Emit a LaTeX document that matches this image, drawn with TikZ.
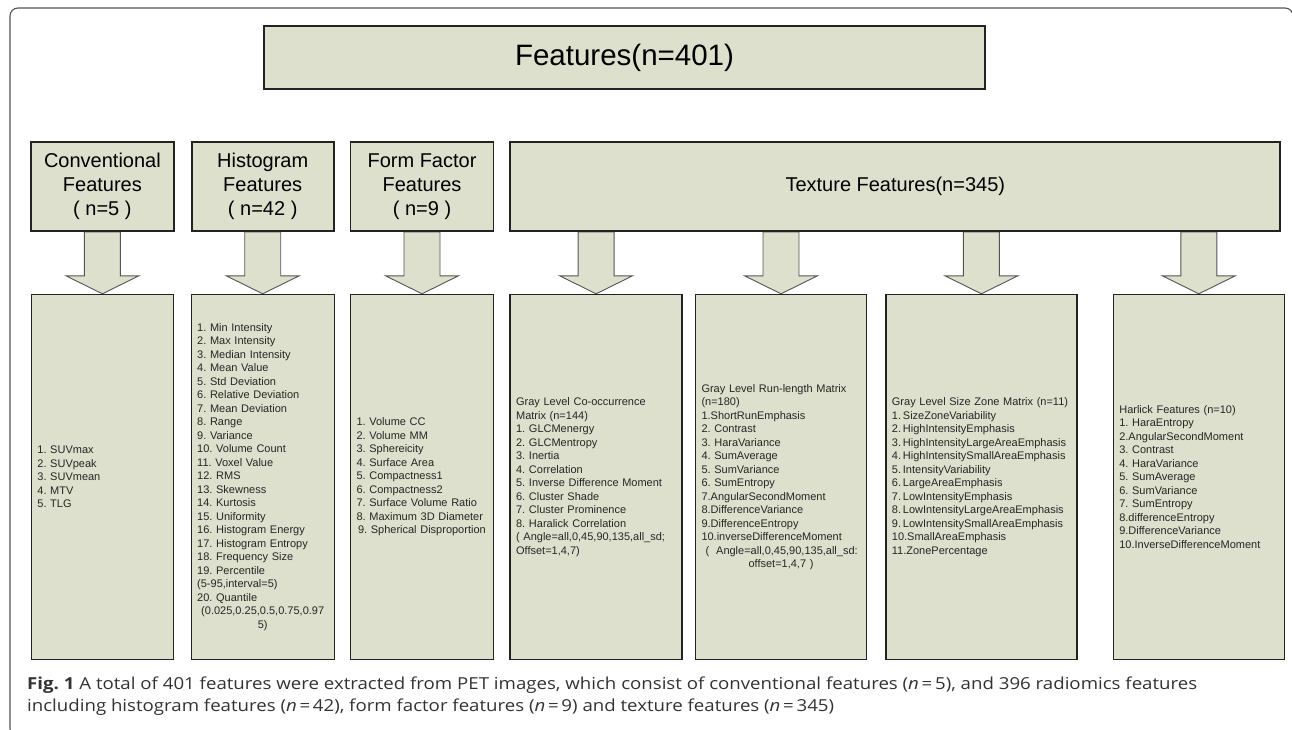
\documentclass[tikz,border=0pt]{standalone}
\usepackage{fontspec}
\setmainfont{Liberation Sans}
\newfontfamily\figcapfont{Open Sans}[FakeStretch=1.13]
\usetikzlibrary{calc,positioning,backgrounds}
\definecolor{boxfill}{RGB}{221,224,204}
\definecolor{boxline}{RGB}{35,35,35}
\definecolor{arrowline}{RGB}{85,85,85}
\definecolor{captext}{RGB}{50,50,50}
\frenchspacing
\tikzset{
    %Define style for the outer frame
    frame/.style={
           draw=arrowline,
           line width=1.1pt,
           rounded corners=8pt},
    %Define style for the top box
    topbox/.style={
           rectangle,
           draw=boxline, line width=2.2pt,
           fill=boxfill,
           minimum width=721pt,
           minimum height=63pt,
           font=\fontsize{29.5}{34}\selectfont},
    %Define style for the group boxes
    headbox/.style={
           rectangle,
           draw=boxline, line width=1.8pt,
           fill=boxfill,
           minimum height=89pt,
           align=center,
           font=\fontsize{20}{24}\selectfont},
    %Define style for the list boxes
    listbox/.style={
           rectangle,
           draw=boxline, line width=1.4pt,
           fill=boxfill,
           minimum height=365pt,
           inner xsep=6pt,
           align=left,
           text=black!85,
           font=\fontsize{11}{13.5}\selectfont},
    % Define block arrow style
    fatarrow/.style={
           draw=arrowline,
           line width=0.9pt,
           fill=boxfill,
           line join=miter},
    % Define caption style
    figcap/.style={
           inner sep=0pt,
           align=left,
           text=captext,
           font=\figcapfont\fontsize{16.5}{22}\selectfont}
}

\begin{document}
\begin{tikzpicture}[x=1pt, y=1pt, node distance=15pt, auto,]
    \useasboundingbox (0,0) rectangle (1292,-730);
    \draw[frame] (10,-8) rectangle (1293,-737);
 %nodes
    \node[topbox] (all) at (624.5,-57.5) {Features(n=401)};
    \node[headbox, minimum width=143pt, anchor=north west] (convhead) at (30,-141) {Conventional\\Features\\( n=5 )};
    \node[headbox, minimum width=142pt, right=16pt of convhead] (histhead) {Histogram\\Features\\( n=42 )};
    \node[headbox, minimum width=143pt, right=15pt of histhead] (formhead) {Form Factor\\Features\\( n=9 )};
    \node[headbox, minimum width=770pt, right=15pt of formhead] (texhead) {Texture Features(n=345)};
    \node[listbox, text width=130pt, below=62pt of convhead] (convlist) {1. SUVmax\\
        2. SUVpeak\\
        3. SUVmean\\
        4. MTV\\
        5. TLG};
    \node[listbox, text width=131pt, below=62pt of histhead] (histlist) {1. Min Intensity\\
        2. Max Intensity\\
        3. Median Intensity\\
        4. Mean Value\\
        5. Std Deviation\\
        6. Relative Deviation\\
        7. Mean Deviation\\
        8. Range\\
        9. Variance\\
        10. Volume Count\\
        11. Voxel Value\\
        12. RMS\\
        13. Skewness\\
        14. Kurtosis\\
        15. Uniformity\\
        16. Histogram Energy\\
        17. Histogram Entropy\\
        18. Frequency Size\\
        19. Percentile\\
        (5-95,interval=5)\\
        20. Quantile\\
        \makebox[\linewidth]{(0.025,0.25,0.5,0.75,0.97}\\
        \makebox[\linewidth]{5)}};
    \node[listbox, text width=131pt, below=62pt of formhead] (formlist) {1. Volume CC\\
        2. Volume MM\\
        3. Sphereicity\\
        4. Surface Area\\
        5. Compactness1\\
        6. Compactness2\\
        7. Surface Volume Ratio\\
        8. Maximum 3D Diameter\\
        \mbox{\hspace*{1.5pt}9. Spherical Disproportion}};
    \node[listbox, text width=160pt, below=62pt of texhead.south west, anchor=north west] (glcm) {Gray Level Co-occurrence\\
        Matrix (n=144)\\
        1. GLCMenergy\\
        2. GLCMentropy\\
        3. Inertia\\
        4. Correlation\\
        5. Inverse Difference Moment\\
        6. Cluster Shade\\
        7. Cluster Prominence\\
        8. Haralick Correlation\\
        \mbox{( Angle=all,0,45,90,135,all\_sd;}\\
        Offset=1,4,7)};
    \node[listbox, text width=159pt, right=12pt of glcm] (glrlm) {Gray Level Run-length Matrix\\
        (n=180)\\
        1.ShortRunEmphasis\\
        2. Contrast\\
        3. HaraVariance\\
        4. SumAverage\\
        5. SumVariance\\
        6. SumEntropy\\
        7.AngularSecondMoment\\
        8.DifferenceVariance\\
        9.DifferenceEntropy\\
        10.inverseDifferenceMoment\\
        \mbox{\hspace*{4pt}(\hspace{7pt}Angle=all,0,45,90,135,all\_sd:}\\
        \makebox[\linewidth]{offset=1,4,7 )}};
    \node[listbox, text width=179pt, right=18pt of glrlm] (glszm) {\mbox{Gray Level Size Zone Matrix (n=11)}\\
        1.\,SizeZoneVariability\\
        2.\,HighIntensityEmphasis\\
        \mbox{3.\,HighIntensityLargeAreaEmphasis}\\
        \mbox{4.\,HighIntensitySmallAreaEmphasis}\\
        5.\,IntensityVariability\\
        6.\,LargeAreaEmphasis\\
        7.\,LowIntensityEmphasis\\
        8.\,LowIntensityLargeAreaEmphasis\\
        9.\,LowIntensitySmallAreaEmphasis\\
        10.SmallAreaEmphasis\\
        11.ZonePercentage};
    \node[listbox, text width=159pt, right=35pt of glszm] (harlick) {Harlick Features (n=10)\\
        1. HaraEntropy\\
        2.AngularSecondMoment\\
        3. Contrast\\
        4. HaraVariance\\
        5. SumAverage\\
        6. SumVariance\\
        7. SumEntropy\\
        8.differenceEntropy\\
        9.DifferenceVariance\\
        10.InverseDifferenceMoment};
    \node[figcap, anchor=base west] (caption) at (27,-711) {\makebox[1170pt][s]{\textbf{Fig. 1} A total of 401 features were extracted from PET images, which consist of conventional features (\textit{n}\,=\,5), and 396 radiomics features}\\
        including histogram features (\textit{n}\,=\,42), form factor features (\textit{n}\,=\,9) and texture features (\textit{n}\,=\,345)};
 %edges
    \begin{scope}[on background layer]
    \foreach \h/\b in {convhead/convlist, histhead/histlist, formhead/formlist, texhead/glcm, texhead/glrlm, texhead/glszm, texhead/harlick}
        \draw[fatarrow] ($(\b.north |- \h.south)+(-18,0)$) -- ($(\b.north)+(-18,18)$) -- ($(\b.north)+(-36.5,18)$) -- (\b.north) -- ($(\b.north)+(36.5,18)$) -- ($(\b.north)+(18,18)$) -- ($(\b.north |- \h.south)+(18,0)$) -- cycle;
    \end{scope}
\end{tikzpicture}
\end{document}
